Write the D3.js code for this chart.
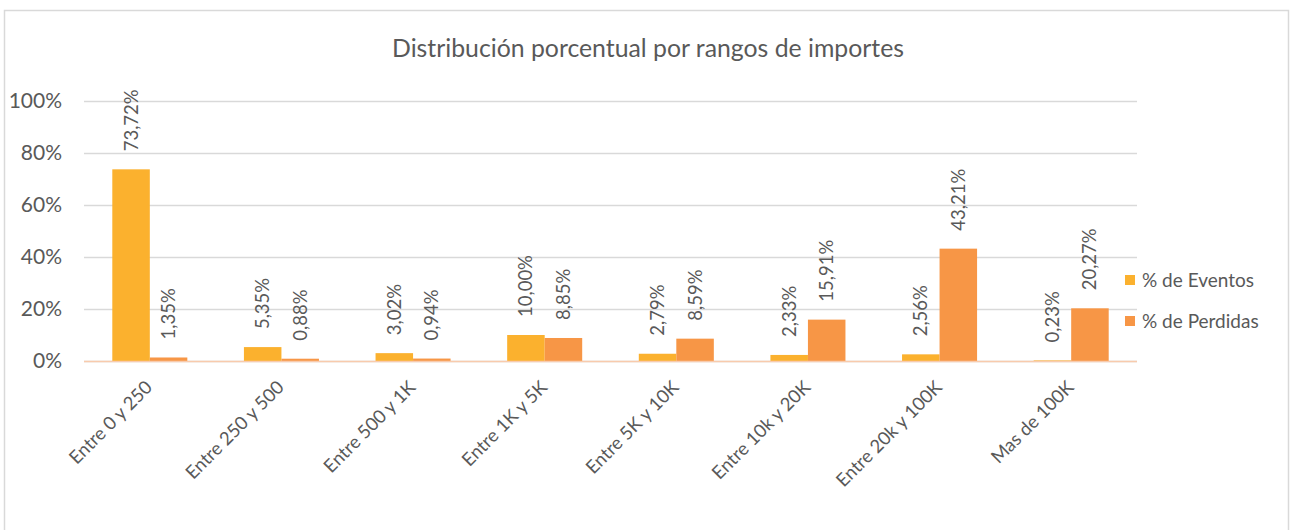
<!DOCTYPE html>
<html><head><meta charset="utf-8">
<script src="https://cdn.jsdelivr.net/npm/d3@7"></script>
<style>body{margin:0;background:#fff;} svg{display:block;font-family:Lato, "Open Sans", sans-serif;}</style>
</head><body><svg id="c" width="1293" height="530"></svg>
<script>
const categories = ["Entre 0 y 250","Entre 250 y 500","Entre 500 y 1K","Entre 1K y 5K","Entre 5K y 10K","Entre 10k y 20K","Entre 20k y 100K","Mas de 100K"];
const eventos = [73.72, 5.35, 3.02, 10.00, 2.79, 2.33, 2.56, 0.23];
const perdidas = [1.35, 0.88, 0.94, 8.85, 8.59, 15.91, 43.21, 20.27];
const seriesNames = ["% de Eventos","% de Perdidas"];
const colors = ["#FBB12E","#F79646"];
const yTicks = [0,20,40,60,80,100];
const title = "Distribución porcentual por rangos de importes";

(function(){
const svg = d3.select("#c");
const textColor = "#595959";
svg.append("rect").attr("x",4.5).attr("y",10.5).attr("width",1284).attr("height",530).attr("fill","#fff").attr("stroke","#D9D9D9").attr("stroke-width",1.5);

const pL=84, pR=1137, pT=101, pB=361;
const x0 = d3.scaleBand().domain(categories).range([pL,pR]).paddingInner(0.43).paddingOuter(0.215);
const x1 = d3.scaleBand().domain(seriesNames).range([0,x0.bandwidth()]);
const y = d3.scaleLinear().domain([0,100]).range([pB,pT]);

svg.append("text").attr("x",648).attr("y",57).attr("text-anchor","middle").attr("fill",textColor).attr("font-size",24.8).text(title);

const yAxis = d3.axisLeft(y).tickValues(yTicks).tickSize(-(pR-pL)).tickFormat(d=>d+"%");
const gy = svg.append("g").attr("transform",`translate(${pL},0)`).call(yAxis);
gy.select(".domain").remove();
gy.selectAll(".tick line").attr("stroke","#D9D9D9").attr("stroke-width",1.5);
gy.selectAll(".tick text").attr("x",-22).attr("fill",textColor).attr("font-size",21).attr("font-family","Lato, sans-serif");

const data = categories.map((c,i)=>({c, vals:[eventos[i],perdidas[i]]}));
const g = svg.append("g").selectAll("g").data(data).join("g").attr("transform",d=>`translate(${x0(d.c)},0)`);
g.selectAll("rect").data(d=>d.vals.map((v,j)=>({v,s:seriesNames[j],j}))).join("rect")
  .attr("x",d=>x1(d.s)).attr("width",x1.bandwidth())
  .attr("y",d=>y(d.v)).attr("height",d=>y(0)-y(d.v)).attr("fill",d=>colors[d.j]);
g.selectAll("text").data(d=>d.vals.map((v,j)=>({v,s:seriesNames[j],j}))).join("text")
  .attr("transform",d=>`translate(${x1(d.s)+x1.bandwidth()/2+6.5},${y(d.v)-18}) rotate(-90)`)
  .attr("fill",textColor).attr("font-size",18.5)
  .text(d=>d.v.toFixed(2).replace(".",",")+"%");

const xAxis = d3.axisBottom(x0).tickSize(0).tickPadding(0);
const gx = svg.append("g").attr("transform",`translate(0,${pB})`).call(xAxis);
gx.select(".domain").attr("stroke","#F8CBAD").attr("stroke-width",1.5).attr("d",`M${pL},0.5H${pR}`);
gx.selectAll(".tick text").attr("text-anchor","end").attr("fill",textColor).attr("font-size",18.4).attr("font-family","Lato, sans-serif")
  .attr("transform","translate(-1,23) rotate(-45)").attr("dy","0.35em").attr("x",0).attr("y",0);

const lg = svg.append("g").selectAll("g").data(seriesNames).join("g").attr("transform",(d,i)=>`translate(1125,${275+i*41})`);
lg.append("rect").attr("width",10).attr("height",10).attr("fill",(d,i)=>colors[i]);
lg.append("text").attr("x",17).attr("y",5).attr("dy","0.35em").attr("fill",textColor).attr("font-size",19).text(d=>d);
})();
</script></body></html>
